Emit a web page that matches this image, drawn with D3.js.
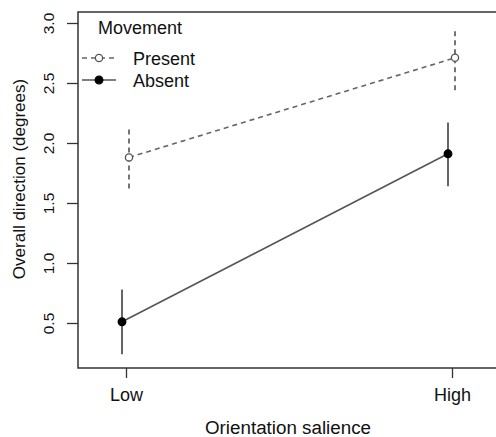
<!DOCTYPE html>
<html><head><meta charset="utf-8">
<script src="https://cdn.jsdelivr.net/npm/d3@7"></script>
<style>body{margin:0;background:#fff;} svg{display:block;font-family:"Liberation Sans",Arial,sans-serif;}</style>
</head><body>
<svg id="c" width="496" height="437"></svg>
<script>
const categories = ["Low", "High"];
const presentMean = [1.88, 2.71];
const presentLo = [1.62, 2.44];
const presentHi = [2.13, 2.96];
const absentMean = [0.51, 1.91];
const absentLo = [0.24, 1.64];
const absentHi = [0.78, 2.17];
const yTicks = [0.5, 1.0, 1.5, 2.0, 2.5, 3.0];

(function(){
const svg = d3.select("#c");
const pL = 78, pT = 12, pB = 368, pR = 520;
const y = d3.scaleLinear().domain([0.5, 3.0]).range([323, 23]);
const x = d3.scalePoint().domain(categories).range([126, 452]);
const ink = "#333";

// frame
svg.append("path").attr("d", `M${pR},${pT}H${pL}V${pB}H${pR}`)
  .attr("fill","none").attr("stroke",ink).attr("stroke-width",1.5);

// y axis
const yAxis = d3.axisLeft(y).tickValues(yTicks).tickFormat(d3.format(".1f")).tickSize(11).tickSizeOuter(0);
const gy = svg.append("g").attr("transform",`translate(${pL},0)`).call(yAxis);
gy.select(".domain").remove();
gy.selectAll("line").attr("stroke",ink).attr("stroke-width",1.3);
gy.selectAll(".tick text").attr("font-size",15.5).attr("fill","#111")
  .attr("transform","translate(-29,0) rotate(-90)").attr("x",0).attr("y",0)
  .attr("dy","0.35em").attr("text-anchor","middle");

// x axis
const xAxis = d3.axisBottom(x).tickSize(10).tickSizeOuter(0);
const gx = svg.append("g").attr("transform",`translate(0,${pB})`).call(xAxis);
gx.select(".domain").remove();
gx.selectAll("line").attr("stroke",ink).attr("stroke-width",1.3);
gx.selectAll("text").attr("font-size",18).attr("fill","#111").attr("dy","0").attr("y",33);

// axis titles
svg.append("text").attr("transform","translate(25,179) rotate(-90)").attr("text-anchor","middle")
  .attr("font-size",17).attr("fill","#111").text("Overall direction (degrees)");
svg.append("text").attr("x",288).attr("y",434).attr("text-anchor","middle")
  .attr("font-size",18.8).attr("fill","#111").text("Orientation salience");

// series
const series = [
  {name:"Present", mean:presentMean, lo:presentLo, hi:presentHi, off:3, dash:"5,4", fill:"#fff", stroke:"#666", ms:"#555", r:3.6},
  {name:"Absent", mean:absentMean, lo:absentLo, hi:absentHi, off:-4, dash:null, fill:"#000", stroke:"#555", ms:"#000", r:3.8}
];
series.forEach(s => {
  const pts = categories.map((c,i)=>({x:x(c)+s.off, m:s.mean[i], lo:s.lo[i], hi:s.hi[i]}));
  svg.append("path").datum(pts)
    .attr("d", d3.line().x(d=>d.x).y(d=>y(d.m)))
    .attr("fill","none").attr("stroke",s.stroke).attr("stroke-width",1.6)
    .attr("stroke-dasharray",s.dash);
  svg.selectAll(null).data(pts).enter().append("line")
    .attr("x1",d=>d.x).attr("x2",d=>d.x).attr("y1",d=>y(d.lo)).attr("y2",d=>y(d.hi))
    .attr("stroke",s.stroke).attr("stroke-width",1.8).attr("stroke-dasharray",s.dash);
  svg.selectAll(null).data(pts).enter().append("circle")
    .attr("cx",d=>d.x).attr("cy",d=>y(d.m)).attr("r",s.r)
    .attr("fill",s.fill).attr("stroke",s.ms).attr("stroke-width",1.3);
});

// legend
const lg = svg.append("g");
lg.append("text").attr("x",98).attr("y",34).attr("font-size",18).attr("fill","#111").text("Movement");
series.forEach((s,i) => {
  const ly = 58 + i*22;
  lg.append("line").attr("x1",82).attr("x2",116).attr("y1",ly).attr("y2",ly)
    .attr("stroke",s.stroke).attr("stroke-width",1.6).attr("stroke-dasharray",s.dash);
  lg.append("circle").attr("cx",99).attr("cy",ly).attr("r",s.r)
    .attr("fill",s.fill).attr("stroke",s.ms).attr("stroke-width",1.3);
  lg.append("text").attr("x",133).attr("y",ly+6.5).attr("font-size",18).attr("fill","#111").text(s.name);
});
})();
</script>
</body></html>
